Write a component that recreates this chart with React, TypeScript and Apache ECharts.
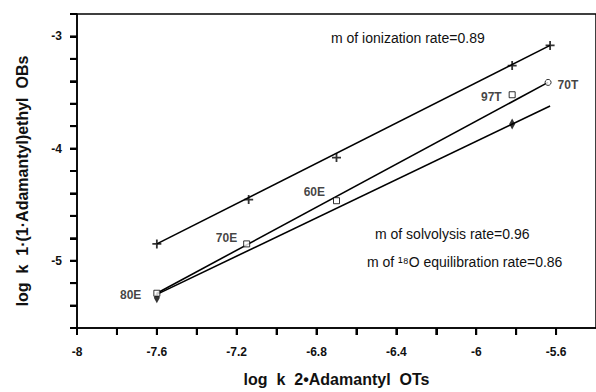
import React, { useEffect, useRef } from "react";
import * as echarts from "echarts";

// ionization rate (+ markers)
const ionX = [-7.6, -7.14, -6.7, -5.82, -5.63];
const ionY = [-4.85, -4.455, -4.08, -3.26, -3.08];
const ionFitX = [-7.6, -5.63];
const ionFitY = [-4.85, -3.08];

// solvolysis rate (open markers, labelled)
const solvLabels = ["80E", "70E", "60E", "97T", "70T"];
const solvX = [-7.6, -7.15, -6.7, -5.82, -5.64];
const solvY = [-5.29, -4.85, -4.465, -3.52, -3.41];
const solvFitX = [-7.6, -5.64];
const solvFitY = [-5.29, -3.41];

// 18O equilibration rate (diamonds)
const eqX = [-7.6, -5.82];
const eqY = [-5.33, -3.78];
const eqFitX = [-7.6, -5.63];
const eqFitY = [-5.3, -3.62];

// axis tick marks
const xTicks = [-8, -7.8, -7.6, -7.4, -7.2, -7, -6.8, -6.6, -6.4, -6.2, -6, -5.8, -5.6];
const yTicks = [-5.4, -5.2, -5, -4.8, -4.6, -4.4, -4.2, -4, -3.8, -3.6, -3.4, -3.2, -3];

const xTitle = "log  k  2\u2022Adamantyl  OTs";
const yTitle = "log  k  1\u00b7(1\u00b7Adamantyl)ethyl  OBs";
const annotations = [
  "m of ionization rate=0.89",
  "m of solvolysis rate=0.96",
  "m of \u00b9\u2078O equilibration rate=0.86",
];

const X_MIN = -8;
const Y_MIN = -5.6;
const FONT = "'Liberation Sans', Arial, sans-serif";

const zip = (xs: number[], ys: number[]) => xs.map((x, i) => [x, ys[i]]);

export default function App() {
  const ref = useRef<HTMLDivElement>(null);
  useEffect(() => {
    if (!ref.current) return;
    const chart = echarts.init(ref.current, undefined, { renderer: "svg" });
    const labelPos: any[] = [
      { position: "left", distance: 12, offset: [0, 2] },
      { position: "left", distance: 6, offset: [0, -6] },
      { position: "left", distance: 8, offset: [0, -9] },
      { position: "left", distance: 7, offset: [0, 2] },
      { position: "right", distance: 6, offset: [0, 3] },
    ];
    const solvData = solvX.map((x, i) => ({
      value: [x, solvY[i]],
      name: solvLabels[i],
      symbol: solvLabels[i] === "70T" ? "circle" : "rect",
      label: {
        show: true,
        formatter: solvLabels[i],
        color: "#111",
        fontFamily: FONT,
        fontSize: 12,
        fontWeight: "bold",
        ...labelPos[i],
      },
    }));
    const lineStyle = { color: "#000", width: 1.6 };
    const annStyle = { fontFamily: FONT, fontSize: 14, fill: "#111" };
    chart.setOption({
      animation: false,
      backgroundColor: "#fff",
      grid: {
        left: 77,
        top: 14,
        width: 520,
        height: 314,
        show: true,
        borderColor: "#000",
        borderWidth: 1.5,
        backgroundColor: "transparent",
      },
      xAxis: {
        type: "value",
        min: X_MIN,
        max: -5.4,
        interval: 0.2,
        name: xTitle,
        nameLocation: "middle",
        nameGap: 43,
        nameTextStyle: { fontFamily: FONT, fontSize: 16, fontWeight: "bold", color: "#111" },
        axisLine: { show: true, lineStyle: { color: "#000", width: 1.5 } },
        axisTick: { show: true, length: 7, lineStyle: { color: "#000", width: 2 } },
        splitLine: { show: false },
        axisLabel: {
          margin: 18,
          fontFamily: FONT,
          fontSize: 12,
          fontWeight: "bold",
          color: "#111",
          showMaxLabel: false,
          formatter: (v: number) => {
            const k = Math.round(v / 0.4);
            if (Math.abs(k * 0.4 - v) > 1e-6) return "";
            return String(Math.round(v * 10) / 10);
          },
        },
      },
      yAxis: {
        type: "value",
        min: Y_MIN,
        max: -2.8,
        interval: 0.2,
        axisLine: { show: true, lineStyle: { color: "#000", width: 1.5 } },
        axisTick: { show: true, length: 7, lineStyle: { color: "#000", width: 2 } },
        splitLine: { show: false },
        axisLabel: {
          margin: 15,
          fontFamily: FONT,
          fontSize: 12,
          fontWeight: "bold",
          color: "#111",
          formatter: (v: number) => {
            if (Math.abs(v - Math.round(v)) > 1e-6) return "";
            return String(Math.round(v));
          },
        },
      },
      series: [
        { type: "line", data: zip(ionFitX, ionFitY), symbol: "none", lineStyle, silent: true },
        { type: "line", data: zip(solvFitX, solvFitY), symbol: "none", lineStyle, silent: true },
        { type: "line", data: zip(eqFitX, eqFitY), symbol: "none", lineStyle, silent: true },
        {
          type: "scatter",
          data: zip(ionX, ionY),
          symbol: "path://M-1,-5H1V-1H5V1H1V5H-1V1H-5V-1H-1Z",
          symbolSize: 9,
          itemStyle: { color: "#000" },
        },
        {
          type: "scatter",
          data: zip(eqX, eqY),
          symbol: "diamond",
          symbolSize: [6, 11],
          itemStyle: { color: "#000" },
          z: 4,
        },
        {
          type: "scatter",
          data: solvData,
          symbolSize: 6,
          itemStyle: { color: "#fff", borderColor: "#000", borderWidth: 1 },
          z: 5,
        },
      ],
    });

    // tick marks as small filled rects, placed through the chart's own scales
    const tickRects: any[] = [];
    xTicks.forEach((v) => {
      const p = chart.convertToPixel({ gridIndex: 0 }, [v, Y_MIN]) as number[];
      tickRects.push({
        type: "rect",
        z: 100,
        silent: true,
        shape: { x: p[0] - 1, y: p[1], width: 2, height: 7 },
        style: { fill: "#000" },
      });
    });
    yTicks.forEach((v) => {
      const p = chart.convertToPixel({ gridIndex: 0 }, [X_MIN, v]) as number[];
      tickRects.push({
        type: "rect",
        z: 100,
        silent: true,
        shape: { x: p[0] - 7, y: p[1] - 1, width: 7, height: 2 },
        style: { fill: "#000" },
      });
    });

    chart.setOption({
      graphic: [
        ...tickRects,
        {
          type: "text",
          x: 22,
          y: 181,
          rotation: Math.PI / 2,
          style: {
            text: yTitle,
            fontFamily: FONT,
            fontSize: 16,
            fontWeight: "bold",
            fill: "#111",
            align: "center",
            verticalAlign: "middle",
          },
        },
        { type: "text", left: 331, top: 31, style: { text: annotations[0], ...annStyle } },
        { type: "text", left: 375, top: 227, style: { text: annotations[1], ...annStyle } },
        { type: "text", left: 367, top: 255, style: { text: annotations[2], ...annStyle } },
      ],
    });
    return () => chart.dispose();
  }, []);
  return (
    <div
      ref={ref}
      style={{ position: "fixed", left: 0, top: 0, width: 596, height: 392 }}
    />
  );
}
